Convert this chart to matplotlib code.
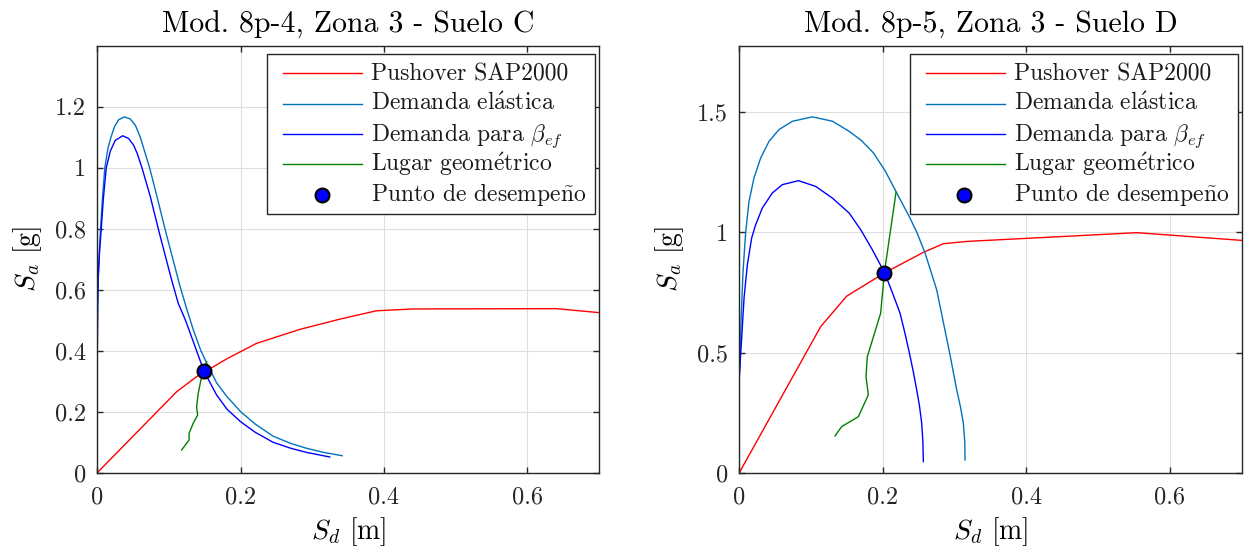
import matplotlib
matplotlib.use("Agg")
import matplotlib.pyplot as plt
from matplotlib.ticker import FormatStrFormatter
from matplotlib.lines import Line2D
from matplotlib.patches import Rectangle

plt.rcParams['font.family'] = 'serif'
plt.rcParams['font.serif'] = ['cmr10']
plt.rcParams['mathtext.fontset'] = 'cm'
plt.rcParams['axes.formatter.use_mathtext'] = True
plt.rcParams['axes.unicode_minus'] = False

# ---------------- data: left panel (Mod. 8p-4) ----------------
push_L_sd = [0, 0.1107, 0.1385, 0.1803, 0.222, 0.2825, 0.339, 0.3894, 0.4405, 0.640, 0.70]
push_L_sa = [0, 0.2656, 0.315, 0.373, 0.424, 0.470, 0.504, 0.531, 0.537, 0.538, 0.525]

elas_L_sd = [0, 0.0005, 0.0015, 0.003, 0.005, 0.0075, 0.0105, 0.0145, 0.019, 0.024,
             0.030, 0.0377, 0.046, 0.053, 0.060, 0.0665, 0.073, 0.0832, 0.0948,
             0.1055, 0.115, 0.125, 0.134, 0.1445, 0.155, 0.1664, 0.180, 0.200,
             0.220, 0.245, 0.270, 0.292, 0.315, 0.3415]
elas_L_sa = [0.40, 0.55, 0.65, 0.73, 0.82, 0.91, 1.00, 1.06, 1.10, 1.135,
             1.158, 1.167, 1.160, 1.140, 1.100, 1.05, 1.00, 0.906, 0.796,
             0.70, 0.615, 0.535, 0.468, 0.40, 0.348, 0.295, 0.252, 0.200,
             0.160, 0.120, 0.096, 0.080, 0.067, 0.0557]

beta_L_sd = [0, 0.0005, 0.0015, 0.003, 0.0055, 0.0085, 0.0125, 0.0182, 0.0251,
             0.0354, 0.0437, 0.0507, 0.056, 0.0623, 0.0739, 0.0855, 0.095, 0.1037,
             0.113, 0.123, 0.1385, 0.1487, 0.1664, 0.181, 0.200, 0.220, 0.245,
             0.270, 0.292, 0.3243]
beta_L_sa = [0.40, 0.55, 0.65, 0.72, 0.80, 0.90, 1.00, 1.055, 1.09,
             1.105, 1.096, 1.074, 1.045, 1.00, 0.906, 0.796, 0.71, 0.632,
             0.555, 0.50, 0.40, 0.3335, 0.255, 0.208, 0.167, 0.133, 0.100,
             0.080, 0.0665, 0.0515]

geo_L_sd = [0.1176, 0.128, 0.128, 0.1338, 0.140, 0.1385, 0.1408, 0.1445, 0.1487, 0.1525]
geo_L_sa = [0.0744, 0.107, 0.129, 0.162, 0.189, 0.216, 0.260, 0.304, 0.3335, 0.364]

pp_L = (0.1487, 0.3335)

# ---------------- data: right panel (Mod. 8p-5) ----------------
push_R_sd = [0, 0.1134, 0.1497, 0.2021, 0.2565, 0.2843, 0.3169, 0.554, 0.70]
push_R_sa = [0, 0.608, 0.735, 0.831, 0.917, 0.953, 0.9625, 0.999, 0.967]

elas_R_sd = [0, 0.001, 0.0024, 0.0052, 0.0089, 0.0135, 0.0205, 0.0298, 0.0414,
             0.0553, 0.0739, 0.1017, 0.1297, 0.153, 0.170, 0.187, 0.2035, 0.2184,
             0.2375, 0.2475, 0.2588, 0.2751, 0.293, 0.303, 0.3085, 0.3122, 0.3142,
             0.3146]
elas_R_sa = [0.40, 0.449, 0.629, 0.8375, 1.00, 1.129, 1.227, 1.310, 1.379,
             1.428, 1.4625, 1.481, 1.463, 1.421, 1.383, 1.331, 1.255, 1.17,
             1.062, 1.00, 0.915, 0.761, 0.50, 0.345, 0.27, 0.206, 0.13,
             0.053]

beta_R_sd = [0, 0.001, 0.0033, 0.0066, 0.0112, 0.0172, 0.0228, 0.0321, 0.046,
             0.060, 0.0825, 0.1064, 0.1297, 0.153, 0.1695, 0.1854, 0.2027, 0.213,
             0.224, 0.2305, 0.2369, 0.2425, 0.2472, 0.251, 0.2542, 0.2558, 0.2565]
beta_R_sa = [0.40, 0.45, 0.56, 0.7267, 0.865, 0.9767, 1.032, 1.1017, 1.164,
             1.199, 1.2154, 1.1917, 1.143, 1.081, 1.01, 0.928, 0.831, 0.752,
             0.664, 0.585, 0.50, 0.42, 0.345, 0.28, 0.206, 0.13, 0.046]

geo_R_sd = [0.1334, 0.1427, 0.1659, 0.1798, 0.1766, 0.1784, 0.197, 0.2021, 0.2184]
geo_R_sa = [0.153, 0.192, 0.233, 0.324, 0.400, 0.483, 0.664, 0.831, 1.167]

pp_R = (0.2021, 0.831)

titles = ["Mod. 8p-4, Zona 3 - Suelo C", "Mod. 8p-5, Zona 3 - Suelo D"]
xticks = [0, 0.2, 0.4, 0.6]
yticks_L = [0, 0.2, 0.4, 0.6, 0.8, 1.0, 1.2]
yticks_R = [0, 0.5, 1.0, 1.5]
labels = ["Pushover SAP2000",
          r"Demanda el$\mathrm{\acute{a}}$stica",
          r"Demanda para $\beta_{ef}$",
          r"Lugar geom$\mathrm{\acute{e}}$trico",
          r"Punto de desempe$\mathrm{\tilde{n}}$o"]
colors = ['#FF0000', '#0072BD', '#0000FF', '#008000']

FW, FH = 1244, 553
fig = plt.figure(figsize=(FW / 100, FH / 100), dpi=100)
axL = fig.add_axes([97.3 / FW, 1 - 472.7 / FH, 501.8 / FW, 427 / FH])
axR = fig.add_axes([739.3 / FW, 1 - 472.7 / FH, 502.3 / FW, 427 / FH])

dark = '#262626'
panels = [
    (axL, push_L_sd, push_L_sa, elas_L_sd, elas_L_sa, beta_L_sd, beta_L_sa,
     geo_L_sd, geo_L_sa, pp_L, yticks_L, titles[0]),
    (axR, push_R_sd, push_R_sa, elas_R_sd, elas_R_sa, beta_R_sd, beta_R_sa,
     geo_R_sd, geo_R_sa, pp_R, yticks_R, titles[1]),
]


def draw_legend(ax):
    pos = ax.get_position()
    W, H = pos.width * FW, pos.height * FH
    fx = lambda px: px / W
    fy = lambda px: px / H
    bw, bh = 328.0, 159.5
    right = 1 - fx(4.0)
    top = 1 - fy(8.5)
    left = right - fx(bw)
    ax.add_patch(Rectangle((left, top - fy(bh)), fx(bw), fy(bh), transform=ax.transAxes,
                           fc='white', ec=dark, lw=1.0, zorder=10, clip_on=False))
    for i, lab in enumerate(labels):
        yc = top - fy(19.2 + 30.35 * i)
        if i < 4:
            ax.add_line(Line2D([left + fx(16), left + fx(95)], [yc, yc],
                               transform=ax.transAxes, color=colors[i], lw=1.0,
                               zorder=11, clip_on=False))
        else:
            ax.add_line(Line2D([left + fx(54.5)], [yc], transform=ax.transAxes,
                               marker='o', ls='none', ms=10, mfc='#0000FF', mec='black',
                               mew=1.5, zorder=11, clip_on=False))
        ax.text(left + fx(104), yc - fy(6.7), lab, transform=ax.transAxes,
                fontsize=17, color='#1a1a1a', va='baseline', ha='left', zorder=12)


for (ax, psd, psa, esd, esa, bsd, bsa, gsd, gsa, pp, yt, ttl) in panels:
    ax.plot(psd, psa, color=colors[0], lw=1.0, label=labels[0])
    ax.plot(esd, esa, color=colors[1], lw=1.0, label=labels[1])
    ax.plot(bsd, bsa, color=colors[2], lw=1.0, label=labels[2])
    ax.plot(gsd, gsa, color=colors[3], lw=1.0, label=labels[3])
    ax.plot([pp[0]], [pp[1]], 'o', ls='none', ms=10, mfc='#0000FF', mec='black',
            mew=1.5, label=labels[4], zorder=5)
    ax.set_xlim(0, 0.7)
    ax.set_ylim(0, 1.2 * max(esa))
    ax.set_xticks(xticks)
    ax.set_yticks(yt)
    ax.xaxis.set_major_formatter(FormatStrFormatter('%g'))
    ax.yaxis.set_major_formatter(FormatStrFormatter('%g'))
    ax.grid(True, color='#DFDFDF', lw=0.8)
    ax.set_axisbelow(True)
    ax.tick_params(direction='in', length=4, width=1.0, colors=dark, top=True,
                   right=True, labelsize=17.5)
    ax.tick_params(axis='x', pad=10)
    ax.tick_params(axis='y', pad=8)
    for sp in ax.spines.values():
        sp.set_color(dark)
        sp.set_linewidth(1.0)
    ax.set_title(ttl, fontsize=21.5, pad=9, color='black')
    ax.set_xlabel(r"$S_d$ [m]", fontsize=20, labelpad=5, color='black')
    ax.set_ylabel(r"$S_a$ [g]", fontsize=20, labelpad=8, color='black')
    draw_legend(ax)

fig.savefig("out.png", dpi=100)
